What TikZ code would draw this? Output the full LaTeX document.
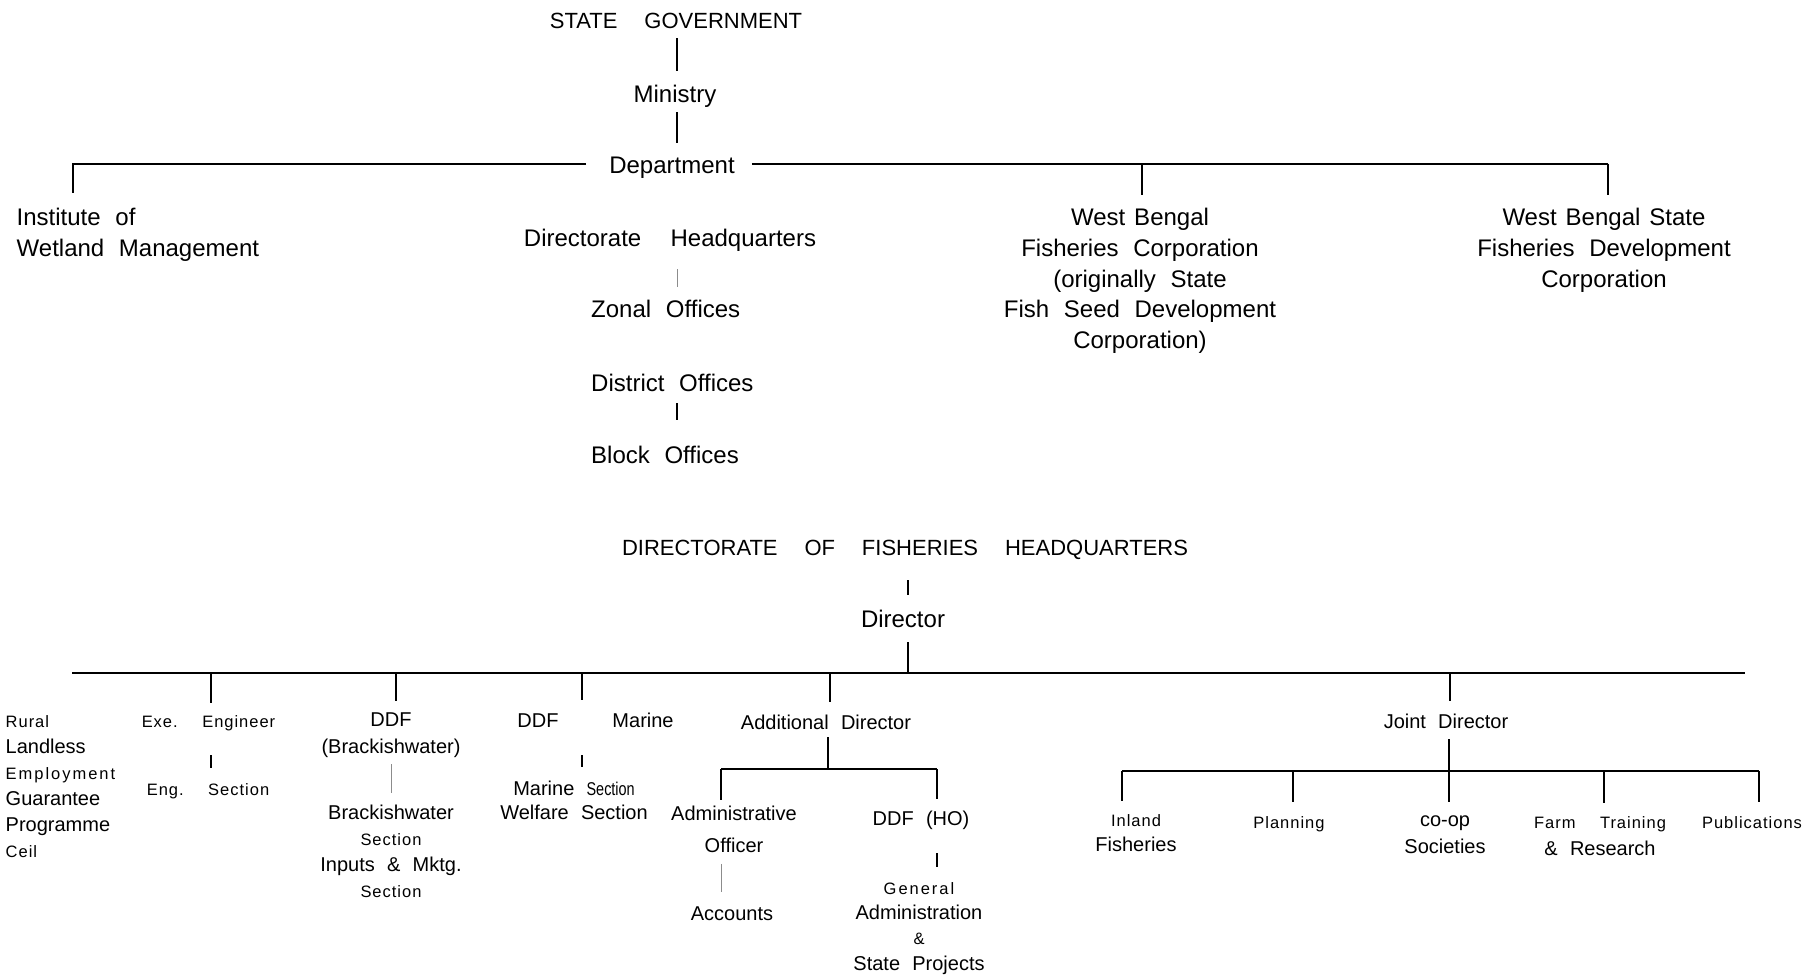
\documentclass[tikz,border=0pt]{standalone}
\usepackage{fontspec}
\setmainfont{Liberation Sans}[WordSpace=2.2]
\usetikzlibrary{calc}
\tikzset{
    every node/.append style={inner sep=0pt},
    lbig/.style={font=\fontsize{24}{30.8}\selectfont},
    lcaps/.style={font=\fontsize{22}{28}\selectfont},
    lmid/.style={font=\fontsize{20}{26}\selectfont},
    lsmall/.style={font=\fontsize{16.5}{26}\selectfont\addfontfeature{LetterSpace=6}},
    link/.style={line width=1.1pt},
    bar/.style={line width=2pt},
    stub/.style={line width=1.6pt},
    faint/.style={line width=0.7pt, black!45},
    drop/.style={link, shorten >=12pt}}
\newcommand{\smtxt}[1]{{\fontsize{16.5}{20}\selectfont\addfontfeature{LetterSpace=6}#1}}
\newcommand{\sptxt}[1]{{\fontsize{16.5}{20}\selectfont\addfontfeature{LetterSpace=12}#1}}
\newcommand{\nrtxt}[1]{{\fontsize{18.5}{20}\selectfont\addfontfeature{FakeStretch=0.78}#1}}

\begin{document}
\begin{tikzpicture}[x=1pt,y=-1pt]
    \useasboundingbox (0,0) rectangle (1820,978);

    % state level
    \node[lcaps, anchor=base] (sg) at (676,28) {STATE\ \ GOVERNMENT};
    \node[lbig, anchor=base] (min) at (675,102) {Ministry};
    \node[lbig, anchor=base] (dep) at (672,173) {Department};
    \node[lbig, anchor=north west, align=left] (iwm) at (16.5,208) {Institute of\\Wetland\ Management};
    \node[lbig, anchor=base] (dhq) at (670,246) {Directorate\ \ Headquarters};
    \node[lbig, anchor=base west] (zon) at (591,317) {Zonal Offices};
    \node[lbig, anchor=base west] (dis) at (591,391) {District Offices};
    \node[lbig, anchor=base west] (blk) at (591,463) {Block Offices};
    \node[lbig, anchor=north, align=center] (wbfc) at (1140,208)
        {West\hspace{9pt}Bengal\\Fisheries Corporation\\(originally State\\Fish Seed Development\\Corporation)};
    \node[lbig, anchor=north, align=center] (wbsf) at (1604,208)
        {West\hspace{9pt}Bengal\hspace{9pt}State\\Fisheries Development\\Corporation};

    \coordinate (axis) at (677,0);
    \coordinate (depL) at (73,163.5);
    \coordinate (depM) at (1142,163.5);
    \coordinate (depR) at (1608,163.5);

    \path[link]
    (sg.south -| axis) edge[shorten <=10pt, shorten >=13pt] (min.north -| axis)
    (min.south -| axis) edge[shorten <=5pt, shorten >=13pt] (dep.north -| axis);
    \draw[bar, shorten <=23pt, shorten >=15pt] (dep.west |- depL) -- (depL) -- (depL |- iwm.north);
    \draw[bar, shorten <=17pt] (dep.east |- depR) -- (depR);
    \path[link]
    (depM) edge[shorten >=13pt] (depM |- wbfc.north)
    (depR) edge[shorten >=13pt] (depR |- wbsf.north);
    \draw[faint, shorten <=18pt, shorten >=12.5pt] (dhq.south -| axis) -- (zon.north -| axis);
    \draw[stub, shorten <=12pt, shorten >=25pt] (dis.south -| axis) -- (blk.north -| axis);

    % directorate headquarters
    \node[lcaps, anchor=base] (dfh) at (905,555) {DIRECTORATE\ \ OF\ \ FISHERIES\ \ HEADQUARTERS};
    \node[lbig, anchor=base] (dir) at (903,627) {Director};

    \node[lmid, anchor=north west, align=left] (rlegp) at (5.5,715)
        {\smtxt{Rural}\\Landless\\\sptxt{Employment}\\Guarantee\\Programme\\\smtxt{Ceil}};
    \node[lsmall, anchor=base] (exe) at (208.5,727) {Exe.\ \ Engineer};
    \node[lsmall, anchor=base] (eng) at (208,795) {Eng.\ \ Section};
    \node[anchor=north, align=center, font=\fontsize{20}{27}\selectfont] (ddfb) at (391,712.7) {DDF\\(Brackishwater)};
    \node[lmid, anchor=north, align=center] (brs) at (391,804.7)
        {Brackishwater\\\smtxt{Section}\\Inputs \& Mktg.\\\smtxt{Section}};
    \node[lmid, anchor=base] (ddfm) at (595.5,727) {DDF\hspace{54pt}Marine};
    \node[anchor=north, align=center, font=\fontsize{20}{24}\selectfont] (mws) at (574,780.7)
        {Marine \nrtxt{Section}\\Welfare Section};
    \node[lmid, anchor=base] (addl) at (826,729) {Additional Director};
    \node[anchor=north, align=center, font=\fontsize{20}{32}\selectfont] (admo) at (734,805.7) {Administrative\\Officer};
    \node[lmid, anchor=base] (acc) at (732,920) {Accounts};
    \node[lmid, anchor=base] (ddfho) at (921,825) {DDF (HO)};
    \node[anchor=north, align=center, font=\fontsize{20}{25.3}\selectfont] (gen) at (919,882.2)
        {\sptxt{General}\\Administration\\\smtxt{\&}\\State Projects};
    \node[lmid, anchor=base] (jd) at (1446,728) {Joint Director};
    \node[anchor=north, align=center, font=\fontsize{20}{25}\selectfont] (inl) at (1136,814) {\smtxt{Inland}\\Fisheries};
    \node[lsmall, anchor=base] (pla) at (1289,828) {Planning};
    \node[anchor=north, align=center, font=\fontsize{20}{27}\selectfont] (coop) at (1445,815.6) {co-op\\Societies};
    \node[anchor=north, align=center, font=\fontsize{20}{27}\selectfont] (frm) at (1600,816.2)
        {\smtxt{Farm\ \ Training}\\\& Research};
    \node[lsmall, anchor=base] (pub) at (1752,828) {Publications};

    \coordinate (barL) at (72,673);
    \coordinate (barR) at (1745,673);
    \coordinate (dirJ) at (908,673);
    \coordinate (j1) at (211,673);
    \coordinate (j2) at (396,673);
    \coordinate (j3) at (582,673);
    \coordinate (j4) at (830,673);
    \coordinate (j5) at (1450,673);

    \draw[stub, shorten <=21pt, shorten >=14pt] (dfh.south -| dirJ) -- (dir.north -| dirJ);
    \draw[link, shorten <=15pt] (dir.south -| dirJ) -- (dirJ);
    \draw[bar] (barL) -- (barR);
    \foreach \j/\n in {j1/exe, j2/ddfb, j3/ddfm, j4/addl, j5/jd}
        \draw[drop] (\j) -- (\j |- \n.north);

    \draw[stub, shorten <=24.5pt, shorten >=15pt] (exe.south -| j1) -- (eng.north -| j1);
    \draw[faint, shorten <=6pt, shorten >=11.7pt] (ddfb.south) -- (ddfb.south |- brs.north);
    \draw[stub, shorten <=28pt, shorten >=13.7pt] (ddfm.south -| j3) -- (mws.north -| j3);

    % additional director
    \coordinate (adL) at (721,769);
    \coordinate (adJ) at (828,769);
    \coordinate (adR) at (937,769);
    \draw[link, shorten <=8pt] (addl.south -| adJ) -- (adJ);
    \draw[bar] (adL) -- (adR);
    \path[link]
    (adL) edge[shorten >=6pt] (adL |- admo.north)
    (adR) edge[shorten >=11pt] (adR |- ddfho.north);
    \draw[faint, shorten <=11pt, shorten >=14pt] (admo.south -| adL) -- (acc.north -| adL);
    \draw[stub, shorten <=24pt, shorten >=15pt] (ddfho.south -| adR) -- (gen.north -| adR);

    % joint director
    \coordinate (jfL) at (1122,770.5);
    \coordinate (jf2) at (1293,770.5);
    \coordinate (jf3) at (1449,770.5);
    \coordinate (jf4) at (1604,770.5);
    \coordinate (jfR) at (1759,770.5);
    \draw[link, shorten <=11pt] (jd.south -| jf3) -- (jf3);
    \draw[bar] (jfL) -- (jfR);
    \foreach \j/\n in {jfL/inl, jf2/pla, jf3/coop, jf4/frm, jfR/pub}
        \draw[link, shorten >=13.5pt] (\j) -- (\j |- \n.north);
\end{tikzpicture}
\end{document}
